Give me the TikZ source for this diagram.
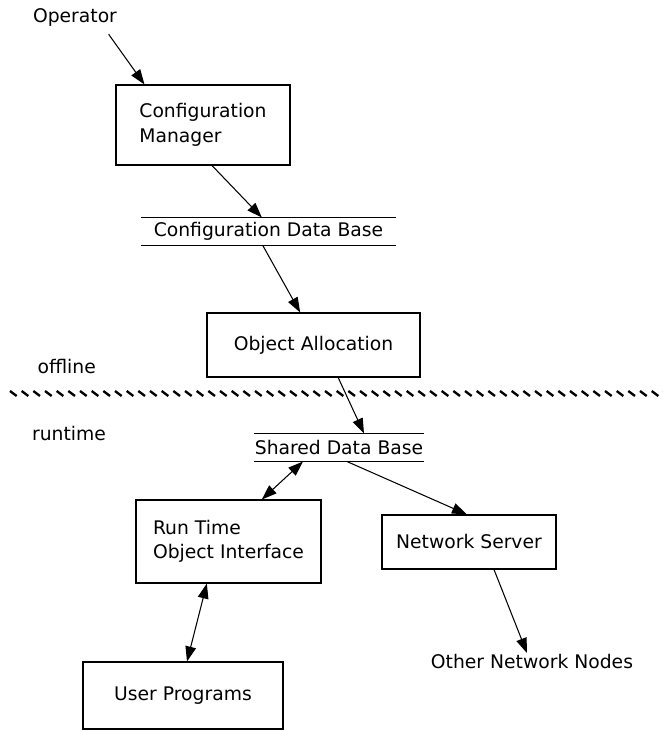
\documentclass[tikz,border=0pt]{standalone}
\usepackage{fontspec}
\setmainfont{DejaVu Sans}
\usetikzlibrary{arrows.meta,calc}

\begin{document}
\begin{tikzpicture}[
		font=\fontsize{16}{21}\selectfont,
		line width=0.9pt,
		>={Triangle[length=0.45cm,width=0.32cm]},
		box/.style={draw, align=left, inner sep=0pt},
		store/.style={inner sep=0pt, minimum height=0.81cm},
		txt/.style={inner sep=1pt},
		flow/.style={->},
		both/.style={<->}
	]
	\useasboundingbox (0,0) rectangle (19.89,-21.96);
	\node[txt] (op) at (2.25,-0.51) {Operator};
	\node[box, minimum width=5.22cm, minimum height=2.4cm] (cm) at (6.09,-3.75) {Configuration\\Manager};
	\node[store, minimum width=7.59cm] (cdb) at (8.055,-6.945) {Configuration Data Base};
	\node[box, minimum width=6.39cm, minimum height=1.92cm] (oa) at (9.405,-10.35) {Object Allocation};
	\node[txt] (off) at (2.0,-11.01) {offline};
	\node[txt] (run) at (2.07,-13.02) {runtime};
	\node[store, minimum width=4.86cm] (sdb) at (10.17,-13.425) {Shared Data Base};
	\node[box, minimum width=5.55cm, minimum height=2.49cm] (rtoi) at (6.855,-16.245) {Run Time\\Object Interface};
	\node[box, minimum width=5.22cm, minimum height=1.62cm] (ns) at (14.07,-16.26) {Network Server};
	\node[txt] (onn) at (15.96,-19.86) {Other Network Nodes};
	\node[box, minimum width=6.0cm, minimum height=2.01cm] (up) at (5.49,-20.865) {User Programs};

	\foreach \s in {cdb,sdb}
		\draw (\s.north west) -- (\s.north east) (\s.south west) -- (\s.south east);

	\foreach \i in {0,...,56}
		\draw[line width=2pt] (0.3+\i*0.35,-11.73) -- ++(0.2,-0.15);

	\draw[flow] ($(op.south east)+(-0.3,-0.2)$) -- ($(cm.north west)+(0.87,0)$);
	\draw[flow] ($(cm.south)+(0.27,0)$) -- ($(cdb.north)+(-0.2,0)$);
	\draw[flow] ($(cdb.south)+(-0.17,0)$) -- ($(oa.north)+(-0.4,0)$);
	\draw[flow] ($(oa.south)+(0.74,0)$) -- ($(sdb.north)+(0.75,0)$);
	\draw[both] ($(sdb.south)+(-1.08,0)$) -- ($(rtoi.north)+(1.0,0)$);
	\draw[flow] ($(sdb.south)+(0.24,0)$) -- ($(ns.north)+(-0.06,0)$);
	\draw[flow] ($(ns.south)+(0.75,0)$) -- ($(onn.north)+(-0.15,0)$);
	\draw[both] ($(rtoi.south)+(-0.65,0)$) -- ($(up.north)+(0.12,0)$);
\end{tikzpicture}
\end{document}
